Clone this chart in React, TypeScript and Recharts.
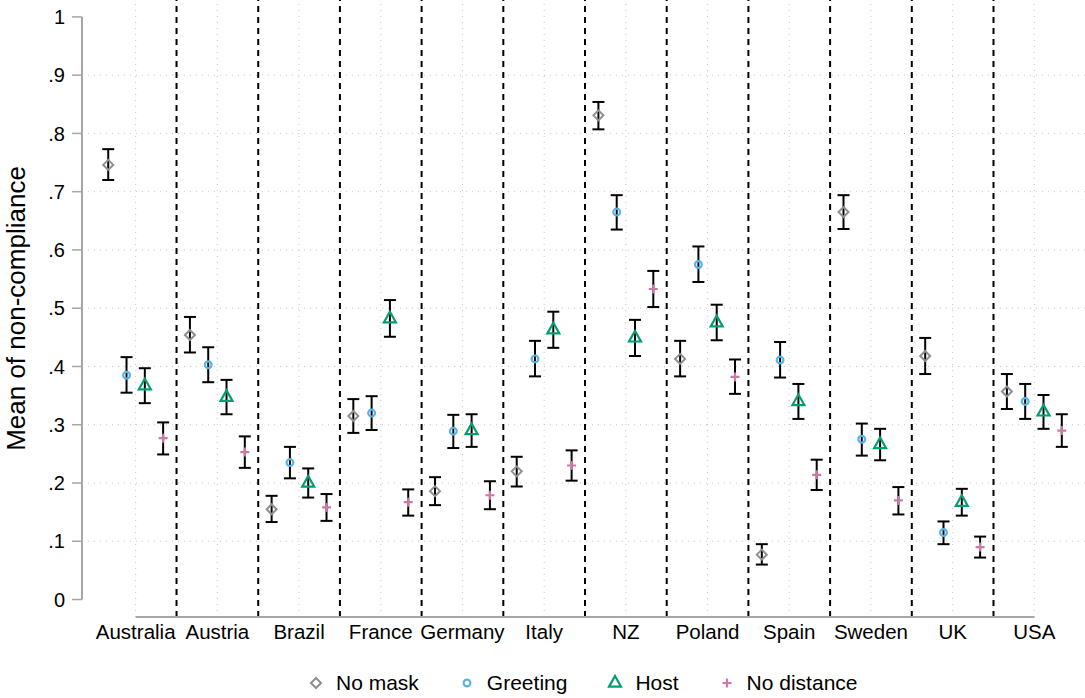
import React from 'react';
import { ScatterChart, Scatter, XAxis, YAxis, ErrorBar, ReferenceLine, Legend } from 'recharts';

// Countries along the horizontal axis
const countries = ['Australia', 'Austria', 'Brazil', 'France', 'Germany', 'Italy', 'NZ', 'Poland', 'Spain', 'Sweden', 'UK', 'USA'];

// Y axis tick values
const yTicks = [0, 0.1, 0.2, 0.3, 0.4, 0.5, 0.6, 0.7, 0.8, 0.9, 1];

// Mean of non-compliance with 95% confidence bounds, per scenario
const noMaskMean = [0.746, 0.454, 0.155, 0.315, 0.186, 0.22, 0.831, 0.413, 0.077, 0.665, 0.418, 0.357];
const noMaskLo = [0.72, 0.424, 0.133, 0.286, 0.162, 0.194, 0.807, 0.383, 0.06, 0.636, 0.387, 0.327];
const noMaskHi = [0.773, 0.485, 0.178, 0.344, 0.21, 0.245, 0.854, 0.444, 0.095, 0.694, 0.449, 0.387];

const greetingMean = [0.385, 0.403, 0.235, 0.32, 0.289, 0.413, 0.665, 0.575, 0.411, 0.275, 0.115, 0.34];
const greetingLo = [0.355, 0.373, 0.208, 0.291, 0.26, 0.383, 0.635, 0.545, 0.381, 0.247, 0.095, 0.31];
const greetingHi = [0.416, 0.433, 0.262, 0.349, 0.317, 0.444, 0.694, 0.606, 0.442, 0.302, 0.134, 0.37];

const hostMean = [0.367, 0.347, 0.2, 0.482, 0.29, 0.463, 0.449, 0.475, 0.34, 0.266, 0.167, 0.322];
const hostLo = [0.337, 0.318, 0.175, 0.451, 0.262, 0.432, 0.418, 0.445, 0.31, 0.239, 0.144, 0.293];
const hostHi = [0.397, 0.377, 0.225, 0.514, 0.318, 0.494, 0.48, 0.506, 0.37, 0.293, 0.19, 0.351];

const noDistMean = [0.277, 0.253, 0.158, 0.167, 0.179, 0.23, 0.533, 0.382, 0.214, 0.17, 0.09, 0.29];
const noDistLo = [0.249, 0.226, 0.135, 0.144, 0.155, 0.204, 0.502, 0.353, 0.188, 0.146, 0.072, 0.262];
const noDistHi = [0.304, 0.28, 0.181, 0.189, 0.203, 0.256, 0.564, 0.412, 0.24, 0.193, 0.108, 0.318];

const FONT = '"Liberation Sans", Arial, Helvetica, sans-serif';
const X_DOMAIN: [number, number] = [-0.657, 11.62];
const Y_DOMAIN: [number, number] = [-0.03, 1.029];

const GRAY = '#8f8f8f';
const BLUE = '#56B4E9';
const GREEN = '#009E73';
const PINK = '#CC79A7';

const DiamondMark = ({ cx, cy }: any) => (
  <path d={`M${cx},${cy - 5} L${cx + 5},${cy} L${cx},${cy + 5} L${cx - 5},${cy} Z`} fill="none" stroke={GRAY} strokeWidth={2} />
);
const CircleMark = ({ cx, cy }: any) => (
  <circle cx={cx} cy={cy} r={3.4} fill="none" stroke={BLUE} strokeWidth={2.2} />
);
const TriangleMark = ({ cx, cy }: any) => (
  <path d={`M${cx},${cy - 7} L${cx + 6},${cy + 3.6} L${cx - 6},${cy + 3.6} Z`} fill="none" stroke={GREEN} strokeWidth={2.2} />
);
const PlusMark = ({ cx, cy }: any) => (
  <path d={`M${cx - 4.5},${cy} L${cx + 4.5},${cy} M${cx},${cy - 4.5} L${cx},${cy + 4.5}`} fill="none" stroke={PINK} strokeWidth={2.2} />
);

const series = [
  { name: 'No mask', mean: noMaskMean, lo: noMaskLo, hi: noMaskHi, offset: -0.336, Shape: DiamondMark },
  { name: 'Greeting', mean: greetingMean, lo: greetingLo, hi: greetingHi, offset: -0.112, Shape: CircleMark },
  { name: 'Host', mean: hostMean, lo: hostLo, hi: hostHi, offset: 0.112, Shape: TriangleMark },
  { name: 'No distance', mean: noDistMean, lo: noDistLo, hi: noDistHi, offset: 0.336, Shape: PlusMark },
];

const buildPoints = (s: typeof series[number]) =>
  countries.map((_, i) => ({
    x: i + s.offset,
    y: s.mean[i],
    err: [s.mean[i] - s.lo[i], s.hi[i] - s.mean[i]],
  }));

const formatY = (v: number) => (v === 0 ? '0' : v === 1 ? '1' : '.' + Math.round(v * 10));

const YLabel = ({ viewBox }: any) => {
  const x = viewBox.x + 16;
  const y = viewBox.y + viewBox.height / 2;
  return (
    <text x={x} y={y} transform={`rotate(-90, ${x}, ${y})`} textAnchor="middle" dominantBaseline="central"
      fontFamily={FONT} fontSize={26} fill="#000">
      Mean of non-compliance
    </text>
  );
};

const LegendContent = () => (
  <div style={{ height: 30, display: 'flex', alignItems: 'center', justifyContent: 'flex-start', paddingLeft: 308, fontFamily: FONT, fontSize: 21, color: '#000' }}>
    {series.map((s, idx) => (
      <div key={s.name} style={{ display: 'flex', alignItems: 'center', marginLeft: idx === 0 ? 0 : 40 }}>
        <svg width={16} height={16} style={{ overflow: 'visible' }}>
          <s.Shape cx={8} cy={8} />
        </svg>
        <span style={{ marginLeft: 12 }}>{s.name}</span>
      </div>
    ))}
  </div>
);

export default function App() {
  return (
    <div style={{ position: 'absolute', left: 0, top: 0, width: 1085, height: 698, background: '#fff' }}>
      <ScatterChart width={1085} height={698} margin={{ top: 0, right: 0, bottom: 0, left: 0 }}>
        <XAxis
          type="number"
          dataKey="x"
          domain={X_DOMAIN}
          ticks={countries.map((_, i) => i)}
          tickFormatter={(i: number) => countries[i]}
          interval={0}
          axisLine={false}
          tickLine={false}
          tickSize={3}
          tickMargin={4}
          height={51}
          tick={{ fontFamily: FONT, fontSize: 20.5, fill: '#000' }}
          allowDataOverflow
        />
        <YAxis
          type="number"
          dataKey="y"
          domain={Y_DOMAIN}
          ticks={yTicks}
          tickFormatter={formatY}
          interval={0}
          width={82}
          axisLine={false}
          tickLine={{ stroke: '#a6a6a6', strokeWidth: 1.5 }}
          tickSize={10}
          tickMargin={7}
          tick={{ fontFamily: FONT, fontSize: 20, fill: '#000' }}
          label={<YLabel />}
          allowDataOverflow
        />
        <Legend verticalAlign="bottom" height={30} content={<LegendContent />} />

        {yTicks.filter((v) => v > 0 && v < 1).map((v) => (
          <ReferenceLine key={'gy' + v} y={v} stroke="#c6c6c6" strokeWidth={1} strokeDasharray="1 5" />
        ))}
        {countries.map((c, i) => (
          <ReferenceLine key={'gx' + c} x={i} stroke="#c6c6c6" strokeWidth={1} strokeDasharray="1 5" />
        ))}
        {countries.slice(1).map((c, i) => (
          <ReferenceLine key={'sep' + c} x={i + 0.5} stroke="#000" strokeWidth={2} strokeDasharray="6 5" />
        ))}
        <ReferenceLine segment={[{ x: X_DOMAIN[0], y: 0 }, { x: X_DOMAIN[0], y: 1 }]} stroke="#a6a6a6" strokeWidth={2} ifOverflow="visible" />
        <ReferenceLine segment={[{ x: 0, y: Y_DOMAIN[0] }, { x: countries.length - 1, y: Y_DOMAIN[0] }]} stroke="#a6a6a6" strokeWidth={2} ifOverflow="visible" />

        {series.map((s) => (
          <Scatter key={s.name} name={s.name} data={buildPoints(s)} shape={<s.Shape />} isAnimationActive={false}>
            <ErrorBar dataKey="err" direction="y" width={6} stroke="#000" strokeWidth={2} />
          </Scatter>
        ))}
      </ScatterChart>
    </div>
  );
}
